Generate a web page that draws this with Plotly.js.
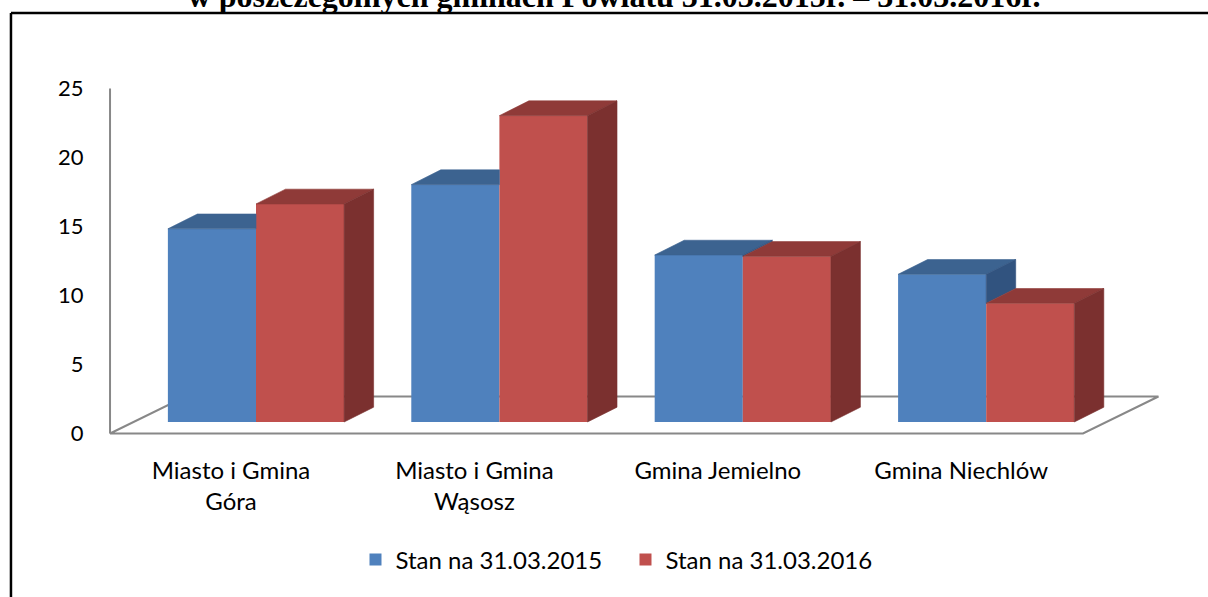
<!DOCTYPE html>
<html>
<head>
<meta charset="utf-8">
<script src="https://cdn.plot.ly/plotly-3.0.1.min.js"></script>
<style>
  html, body { margin: 0; padding: 0; background: #fff; }
  #chart { width: 1208px; height: 597px; }
</style>
</head>
<body>
<div id="chart"></div>
<script>
// ---- data ----
const categories = ['Miasto i Gmina<br>Góra', 'Miasto i Gmina<br>Wąsosz', 'Gmina Jemielno', 'Gmina Niechlów'];
const seriesNames = ['Stan na 31.03.2015', 'Stan na 31.03.2016'];
const values2015 = [14.0, 17.2, 12.1, 10.7];
const values2016 = [15.8, 22.2, 12.0, 8.6];
const yTicks = [0, 5, 10, 15, 20, 25];
const titleText = 'w poszczególnych gminach Powiatu 31.03.2015r. – 31.03.2016r.';

// ---- styling / geometry ----
const blue = {front: '#4F81BD', top: '#3C6390', side: '#31537F'};
const red  = {front: '#C0504D', top: '#8F3A38', side: '#7B302F'};
const W = 0.362;        // bar width (x units)
const SH = 0.1027;      // shift of bar groups relative to labels (front plane)
const DX = 0.1212, DY = 1.072;   // depth offset of bar boxes
const LAB = -0.8333;    // y offset of front plane (labels) vs bar plane
const FL = -0.497, FDX = 0.31, FDY = 2.68;

const idx = categories.map((c, i) => i);

function poly(pts) { return pts.map(p => p[0]).concat([null]); }
function polyY(pts) { return pts.map(p => p[1]).concat([null]); }

const faces = {bt: {x: [], y: []}, bs: {x: [], y: []}, rt: {x: [], y: []}, rs: {x: [], y: []}};
function add(f, pts) { f.x.push(...poly(pts)); f.y.push(...polyY(pts)); }

idx.forEach(i => {
  const v1 = values2015[i], v2 = values2016[i];
  const x0 = i + SH - W, x1 = i + SH, x2 = i + SH + W;
  if (v2 > v1) {
    add(faces.bt, [[x0, v1], [x1, v1], [x1, v1 + DY], [x0 + DX, v1 + DY], [x0, v1]]);
  } else {
    add(faces.bt, [[x0, v1], [x1, v1], [x1 + DX, v1 + DY], [x0 + DX, v1 + DY], [x0, v1]]);
    add(faces.bs, [[x1, v2], [x1, v1], [x1 + DX, v1 + DY], [x1 + DX, v2 + DY], [x1, v2]]);
  }
  add(faces.rt, [[x1, v2], [x2, v2], [x2 + DX, v2 + DY], [x1 + DX, v2 + DY], [x1, v2]]);
  add(faces.rs, [[x2, 0], [x2, v2], [x2 + DX, v2 + DY], [x2 + DX, DY], [x2, 0]]);
});

function faceTrace(f, color) {
  return {type: 'scatter', mode: 'lines', x: f.x, y: f.y, fill: 'toself', fillcolor: color,
          line: {color: color, width: 0.6}, hoverinfo: 'skip', showlegend: false};
}

const traces = [
  {type: 'bar', name: seriesNames[0], x: idx, y: values2015, width: W, offset: SH - W,
   marker: {color: blue.front, line: {width: 0}}, hoverinfo: 'y'},
  {type: 'bar', name: seriesNames[1], x: idx, y: values2016, width: W, offset: SH,
   marker: {color: red.front, line: {width: 0}}, hoverinfo: 'y'},
  faceTrace(faces.bt, blue.top),
  faceTrace(faces.bs, blue.side),
  faceTrace(faces.rt, red.top),
  faceTrace(faces.rs, red.side),
  {type: 'scatter', x: [null], y: [null], yaxis: 'y2', showlegend: false, hoverinfo: 'skip'}
];

const n = categories.length;
const FR = n - 1 + 0.5004;
const gray = '#888888';
const shapes = [
  {type: 'line', xref: 'x', yref: 'y', layer: 'below', x0: FL, x1: FL, y0: LAB, y1: LAB + yTicks[yTicks.length - 1], line: {color: gray, width: 2}},
  {type: 'path', xref: 'x', yref: 'y', layer: 'below',
   path: `M${FL},${LAB} L${FR},${LAB} L${FR + FDX},${LAB + FDY} L${FL + FDX},${LAB + FDY} Z`,
   line: {color: gray, width: 2}},
  {type: 'line', xref: 'paper', yref: 'paper', x0: -0.0836, x1: 1.2, y0: 1.0937, y1: 1.0937, line: {color: '#000', width: 2.5}},
  {type: 'line', xref: 'paper', yref: 'paper', x0: -0.0836, x1: -0.0836, y0: 1.0937, y1: -0.6, line: {color: '#000', width: 2.5}}
];

const tickFont = {family: 'Lato, "Open Sans", sans-serif', size: 22, color: '#000'};
const textFont = {family: 'Lato, "Open Sans", sans-serif', size: 24, color: '#000'};

const layout = {
  width: 1208, height: 597,
  margin: {l: 100, r: 43, t: 50, b: 152},
  paper_bgcolor: '#fff', plot_bgcolor: 'rgba(0,0,0,0)',
  font: textFont,
  showlegend: true,
  barmode: 'overlay',
  title: {text: '<b>' + titleText + '</b>', font: {family: '"Liberation Serif", "Times New Roman", serif', size: 32, color: '#000'},
          xref: 'container', yref: 'paper', x: 0.5083, xanchor: 'center', y: 1, yanchor: 'bottom', pad: {b: 43}},
  xaxis: {range: [-0.5382, 3.8373], tickvals: idx, ticktext: categories, showgrid: false, zeroline: false,
          showline: false, ticks: 'outside', ticklen: 4, tickcolor: 'rgba(0,0,0,0)', tickfont: textFont, fixedrange: true},
  yaxis: {range: [-1.6667, 26.9565], showticklabels: false, showgrid: false, zeroline: false, showline: false, fixedrange: true},
  yaxis2: {range: [-0.8333, 27.7899], overlaying: 'y', side: 'left', anchor: 'x', tickvals: yTicks, ticktext: yTicks.map(String),
           showgrid: false, zeroline: false, showline: false, ticks: 'outside', ticklen: 11, tickcolor: 'rgba(0,0,0,0)', tickfont: tickFont, fixedrange: true},
  legend: {orientation: 'h', x: 0.2399, xanchor: 'left', y: -0.2911, yanchor: 'middle', font: textFont,
           traceorder: 'normal', entrywidth: 225, entrywidthmode: 'pixels'},
  shapes: shapes
};

Plotly.newPlot('chart', traces, layout, {displayModeBar: false, staticPlot: true});
</script>
</body>
</html>
